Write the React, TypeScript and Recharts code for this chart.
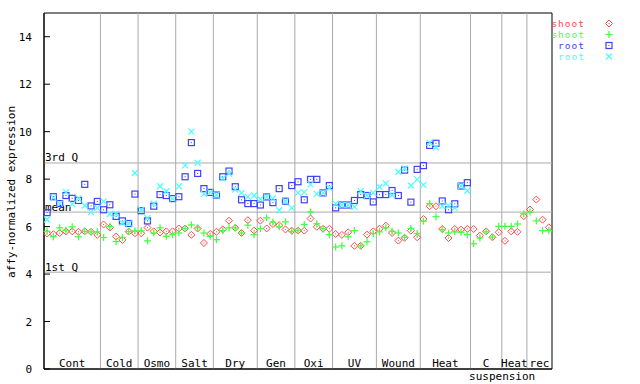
import { ScatterChart, Scatter, XAxis, YAxis, ReferenceLine, ReferenceArea } from "recharts"

const groupLabels = ["Cont", "Cold", "Osmo", "Salt", "Dry", "Gen", "Oxi", "UV", "Wound", "Heat", "C", "Heat", "rec"]
const groupSizes = [9, 6, 6, 6, 7, 6, 6, 7, 7, 8, 5, 4, 4]

const shootRed = [
  5.71, 5.68, 5.73, 5.8, 5.8, 5.78, 5.8, 5.78, 5.65,
  6.09, 5.96, 5.58, 5.44, 5.79, 5.72,
  5.72, 5.96, 5.8, 5.75, 5.8, 5.8,
  5.92, 5.92, 5.65, 5.92, 5.31, 5.69,
  5.78, 5.88, 6.25, 5.95, 5.73, 6.27, 5.83,
  6.25, 5.92, 6.11, 6.06, 5.88, 5.83,
  5.83, 5.83, 6.34, 5.99, 5.91, 5.91,
  5.69, 5.65, 5.76, 5.19, 5.19, 5.66, 5.8,
  5.91, 6.04, 5.73, 5.41, 5.53, 5.83, 5.55,
  6.32, 6.86, 6.86, 5.9, 5.52, 5.9, 5.87, 5.9,
  5.9, 5.62, 5.8, 5.55, 5.76,
  5.4, 5.8, 5.78, 6.44,
  6.72, 7.14, 6.29, 5.97,
]

const shootGreen = [
  5.8, 5.57, 5.95, 5.85, 5.99, 5.57, 5.8, 5.78, 5.78,
  5.54, 6.0, 5.37, 5.54, 5.79, 5.82,
  5.82, 5.4, 5.73, 5.95, 5.59, 5.66,
  5.73, 5.92, 6.07, 5.95, 5.73, 5.59,
  5.45, 5.83, 5.95, 5.95, 5.73, 6.06, 5.66,
  5.91, 6.37, 6.19, 5.99, 6.2, 5.8,
  5.85, 6.09, 6.62, 6.12, 5.91, 5.66,
  5.14, 5.19, 5.57, 5.83, 5.19, 5.36, 5.71,
  5.78, 5.95, 5.8, 5.73, 5.55, 5.92, 5.71,
  6.23, 6.97, 6.42, 5.87, 5.73, 5.78, 5.76, 5.66,
  5.28, 5.52, 5.78, 5.56, 6.01,
  6.01, 6.01, 6.11, 6.54,
  6.61, 6.24, 5.83, 5.83,
]

const rootBlue = [
  6.59, 7.26, 6.97, 7.31, 7.19, 7.1, 7.78, 6.87, 7.06,
  6.71, 6.92, 6.43, 6.24, 6.13, 7.37,
  6.67, 6.24, 6.86, 7.35, 7.31, 7.18,
  7.26, 8.1, 9.54, 8.24, 7.6, 7.44,
  7.33, 8.1, 8.34, 7.68, 7.13, 6.97, 6.97,
  6.91, 7.25, 7.01, 7.6, 7.07, 7.73,
  7.89, 7.13, 7.99, 7.99, 7.42, 7.73,
  6.79, 6.91, 6.91, 7.1, 7.35, 7.31, 7.04,
  7.35, 7.35, 7.52, 7.31, 8.38, 7.03, 8.41,
  8.57, 9.42, 9.51, 7.08, 6.71, 6.96, 7.71, 7.85,
]

const rootCyan = [
  6.3, 7.22, 6.97, 7.45, 6.95, 7.19, 6.89, 6.61, 6.79,
  7.06, 6.53, 6.53, 6.16, 6.13, 8.26,
  6.71, 6.36, 6.97, 7.7, 7.49, 7.18,
  7.7, 8.58, 10.0, 8.69, 7.38, 7.44,
  7.33, 8.03, 8.23, 7.56, 7.42, 7.25, 7.31,
  7.17, 7.25, 7.19, 6.69, 7.07, 6.79,
  7.42, 7.45, 7.78, 7.38, 7.42, 7.63,
  6.97, 6.91, 6.91, 6.83, 7.49, 7.31, 7.42,
  7.68, 7.82, 7.33, 8.31, 8.45, 7.73, 7.99,
  7.76, 9.54, 9.34, 6.86, 6.89, 6.79, 7.71, 7.51,
]

const yTicks = [0, 2, 4, 6, 8, 10, 12, 14]
const quartileLabels = ["3rd Q", "mean", "1st Q"]
const quartileValues = [8.68, 6.61, 4.08]

const RED = "#ff4848"
const GREEN = "#48ff48"
const BLUE = "#4040ff"
const CYAN = "#48ffff"
const GRID = "#aaaaaa"
const FONT = "'DejaVu Sans Mono', monospace"

const total = groupSizes.reduce((a, b) => a + b, 0)
const bounds: number[] = []
const centers: number[] = []
let acc = 0
groupSizes.forEach((n) => {
  centers.push(acc + n / 2)
  acc += n
  bounds.push(acc)
})

const pts = (arr: number[]) => arr.map((y, i) => ({ x: i + 0.5, y }))

const Diamond = (p: any) => {
  const { cx, cy } = p
  return (
    <g>
      <polygon points={`${cx},${cy - 3.5} ${cx + 3.5},${cy} ${cx},${cy + 3.5} ${cx - 3.5},${cy}`} fill="none" stroke={RED} strokeWidth={1} />
      <rect x={cx - 0.5} y={cy - 0.5} width={1} height={1} fill={RED} />
    </g>
  )
}

const Plus = (p: any) => {
  const { cx, cy } = p
  return (
    <g stroke={GREEN} strokeWidth={1.3}>
      <line x1={cx - 3.5} y1={cy} x2={cx + 3.5} y2={cy} />
      <line x1={cx} y1={cy - 3.5} x2={cx} y2={cy + 3.5} />
    </g>
  )
}

const Square = (p: any) => {
  const { cx, cy } = p
  return (
    <g>
      <rect x={cx - 3} y={cy - 3} width={6} height={6} fill="none" stroke={BLUE} strokeWidth={1.2} />
      <rect x={cx - 0.5} y={cy - 0.5} width={1} height={1} fill={BLUE} />
    </g>
  )
}

const Cross = (p: any) => {
  const { cx, cy } = p
  return (
    <g stroke={CYAN} strokeWidth={1.2}>
      <line x1={cx - 3} y1={cy - 3} x2={cx + 3} y2={cy + 3} />
      <line x1={cx - 3} y1={cy + 3} x2={cx + 3} y2={cy - 3} />
    </g>
  )
}

const XTick = (p: any) => {
  const { x, y, index } = p
  return (
    <g fontFamily={FONT} fontSize={11} fill="#000">
      <text x={x} y={y - 2} textAnchor="middle">{groupLabels[index]}</text>
      {index === 10 && (
        <text x={x + 16} y={y + 10.5} textAnchor="middle">suspension</text>
      )}
    </g>
  )
}

const YTick = (p: any) => {
  const { x, y, payload } = p
  return (
    <g>
      <line x1={x + 12} y1={y} x2={x + 18} y2={y} stroke="#000" />
      <text x={x} y={y + 4} textAnchor="end" fontFamily={FONT} fontSize={11} fill="#000">{payload.value}</text>
    </g>
  )
}

const RightTick = (p: any) => {
  const { x, y } = p
  return <line x1={x - 6} y1={y} x2={x} y2={y} stroke="#000" />
}

const QLabel = (p: any) => {
  const { viewBox, text } = p
  return (
    <text x={viewBox.x + 1} y={viewBox.y - 1.5} fontFamily={FONT} fontSize={11} fill="#000">{text}</text>
  )
}

const legend = [
  { label: "shoot", color: RED, Mark: Diamond },
  { label: "shoot", color: GREEN, Mark: Plus },
  { label: "root", color: BLUE, Mark: Square },
  { label: "root", color: CYAN, Mark: Cross },
]

export default function App() {
  return (
    <div style={{ position: "absolute", left: 0, top: 0, width: 640, height: 384, background: "#fff" }}>
      <ScatterChart width={640} height={384} margin={{ top: 13, right: 88, bottom: 0, left: 0 }}>
        <XAxis
          type="number"
          dataKey="x"
          domain={[0, total]}
          ticks={centers}
          interval={0}
          tick={<XTick />}
          tickLine={false}
          tickSize={0}
          tickMargin={0}
          height={15}
          axisLine={{ stroke: "#000" }}
        />
        <YAxis
          yAxisId="l"
          type="number"
          dataKey="y"
          domain={[0, 15]}
          ticks={yTicks}
          interval={0}
          width={44}
          tick={<YTick />}
          tickLine={false}
          tickSize={0}
          tickMargin={12}
          axisLine={{ stroke: "#000" }}
        />
        <YAxis
          yAxisId="r"
          orientation="right"
          type="number"
          domain={[0, 15]}
          ticks={yTicks}
          interval={0}
          width={0}
          tick={<RightTick />}
          tickLine={false}
          tickSize={0}
          tickMargin={0}
          axisLine={{ stroke: "#000" }}
        />
        {bounds.slice(0, -1).map((b) => (
          <ReferenceLine key={"b" + b} yAxisId="l" x={b} stroke={GRID} strokeWidth={1} />
        ))}
        {quartileValues.map((v, i) => (
          <ReferenceLine key={"q" + i} yAxisId="l" y={v} stroke={GRID} strokeWidth={1} label={<QLabel text={quartileLabels[i]} />} />
        ))}
        <Scatter yAxisId="l" data={pts(shootRed)} shape={Diamond} isAnimationActive={false} />
        <Scatter yAxisId="l" data={pts(shootGreen)} shape={Plus} isAnimationActive={false} />
        <Scatter yAxisId="l" data={pts(rootBlue)} shape={Square} isAnimationActive={false} />
        <Scatter yAxisId="l" data={pts(rootCyan)} shape={Cross} isAnimationActive={false} />
        <ReferenceArea yAxisId="l" x1={0} x2={total} y1={0} y2={15} fill="none" stroke="#000" strokeWidth={1} />
      </ScatterChart>
      <svg width={640} height={384} style={{ position: "absolute", left: 0, top: 0, pointerEvents: "none" }}>
        <text x={12} y={192} transform="rotate(-90 12 192)" textAnchor="middle" dominantBaseline="middle" fontFamily={FONT} fontSize={11} fill="#000">
          affy-normalized expression
        </text>
        {legend.map((l, i) => (
          <g key={i}>
            <text x={585} y={26.5 + i * 11} textAnchor="end" fontFamily={FONT} fontSize={9.5} letterSpacing={1} fill={l.color}>{l.label}</text>
            <l.Mark cx={609} cy={23.5 + i * 11} />
          </g>
        ))}
      </svg>
    </div>
  )
}
